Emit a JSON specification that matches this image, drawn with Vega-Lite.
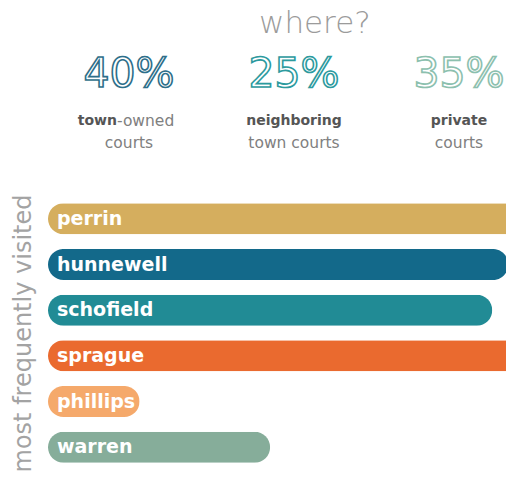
{
  "$schema": "https://vega.github.io/schema/vega-lite/v6.json",
  "padding": {"left": 10, "top": 8, "right": 0, "bottom": 0},
  "bounds": "flush",
  "background": "white",
  "title": {"text": "where?", "fontSize": 31, "font": "DejaVu Sans", "fontWeight": 200, "color": "#9b9b9b", "anchor": "middle", "dx": 22, "offset": 10},
  "config": {"view": {"stroke": null}, "font": "DejaVu Sans"},
  "resolve": {"scale": {"x": "independent", "color": "independent", "stroke": "independent"}},
  "datasets": {
    "header": [
      {"place": "town-owned", "pct": "40%", "boldLine": "town", "regLine": "-owned", "line2": "courts"},
      {"place": "neighboring", "pct": "25%", "boldLine": "neighboring", "regLine": "", "line2": "town courts"},
      {"place": "private", "pct": "35%", "boldLine": "private", "regLine": "", "line2": "courts"}
    ],
    "courts": [
      {"court": "perrin", "visits": 115},
      {"court": "hunnewell", "visits": 100.5},
      {"court": "schofield", "visits": 97},
      {"court": "sprague", "visits": 115},
      {"court": "phillips", "visits": 20},
      {"court": "warren", "visits": 48.5}
    ]
  },
  "spacing": 0,
  "vconcat": [
    {
      "width": 458, "height": 50,
      "data": {"name": "header"},
      "mark": {"type": "text", "fontSize": 41, "fill": "white", "strokeWidth": 1.6, "font": "DejaVu Sans", "baseline": "middle", "align": "center"},
      "encoding": {
        "x": {"field": "place", "type": "nominal", "sort": null, "axis": null, "scale": {"type": "point", "padding": 0, "domain": ["town-owned", "neighboring", "private"], "range": [81, 411]}},
        "text": {"field": "pct", "type": "nominal"},
        "stroke": {"field": "place", "type": "nominal", "legend": null, "scale": {"domain": ["town-owned", "neighboring", "private"], "range": ["#2e6f8a", "#2c9a9e", "#8cc0ae"]}}
      }
    },
    {
      "width": 458, "height": 96,
      "data": {"name": "header"},
      "encoding": {
        "x": {"field": "place", "type": "nominal", "sort": null, "axis": null, "scale": {"type": "point", "padding": 0, "domain": ["town-owned", "neighboring", "private"], "range": [81, 411]}}
      },
      "layer": [
        {
          "transform": [{"filter": "datum.place !== 'town-owned'"}],
          "mark": {"type": "text", "fontSize": 14, "fontWeight": "bold", "fill": "#555555", "baseline": "middle", "align": "center", "dy": -27},
          "encoding": {"text": {"field": "boldLine", "type": "nominal"}}
        },
        {
          "transform": [{"filter": "datum.place === 'town-owned'"}],
          "mark": {"type": "text", "fontSize": 14, "fontWeight": "bold", "fill": "#555555", "baseline": "middle", "align": "right", "dx": -12, "dy": -27},
          "encoding": {"text": {"field": "boldLine", "type": "nominal"}}
        },
        {
          "transform": [{"filter": "datum.place === 'town-owned'"}],
          "mark": {"type": "text", "fontSize": 15.5, "fill": "#808080", "baseline": "middle", "align": "left", "dx": -12, "dy": -27},
          "encoding": {"text": {"field": "regLine", "type": "nominal"}}
        },
        {
          "mark": {"type": "text", "fontSize": 15.5, "fill": "#808080", "baseline": "middle", "align": "center", "dy": -5},
          "encoding": {"text": {"field": "line2", "type": "nominal"}}
        }
      ]
    },
    {
      "width": 458, "height": 274,
      "data": {"name": "courts"},
      "encoding": {
        "y": {"field": "court", "type": "nominal", "sort": null,
          "scale": {"paddingInner": 0.32, "paddingOuter": 0.16},
          "axis": {"title": "most frequently visited", "labels": false, "ticks": false, "domain": false, "grid": false,
            "titleFontSize": 24, "titleFontWeight": "normal", "titleColor": "#a3a3a3", "titlePadding": 13, "titleFont": "DejaVu Sans"}}
      },
      "layer": [
        {
          "mark": {"type": "bar", "cornerRadius": 15.5},
          "encoding": {
            "x": {"field": "visits", "type": "quantitative", "scale": {"domain": [0, 100], "nice": false, "zero": true}, "axis": null},
            "color": {"field": "court", "type": "nominal", "legend": null,
              "scale": {"domain": ["perrin", "hunnewell", "schofield", "sprague", "phillips", "warren"],
                "range": ["#d5ae5e", "#13698a", "#218b95", "#ea6a2f", "#f5a96b", "#86ad9a"]}}
          }
        },
        {
          "mark": {"type": "text", "align": "left", "baseline": "middle", "dx": 9, "fontSize": 19, "fontWeight": "bold", "fill": "white"},
          "encoding": {
            "x": {"datum": 0},
            "text": {"field": "court", "type": "nominal"}
          }
        }
      ]
    }
  ]
}
